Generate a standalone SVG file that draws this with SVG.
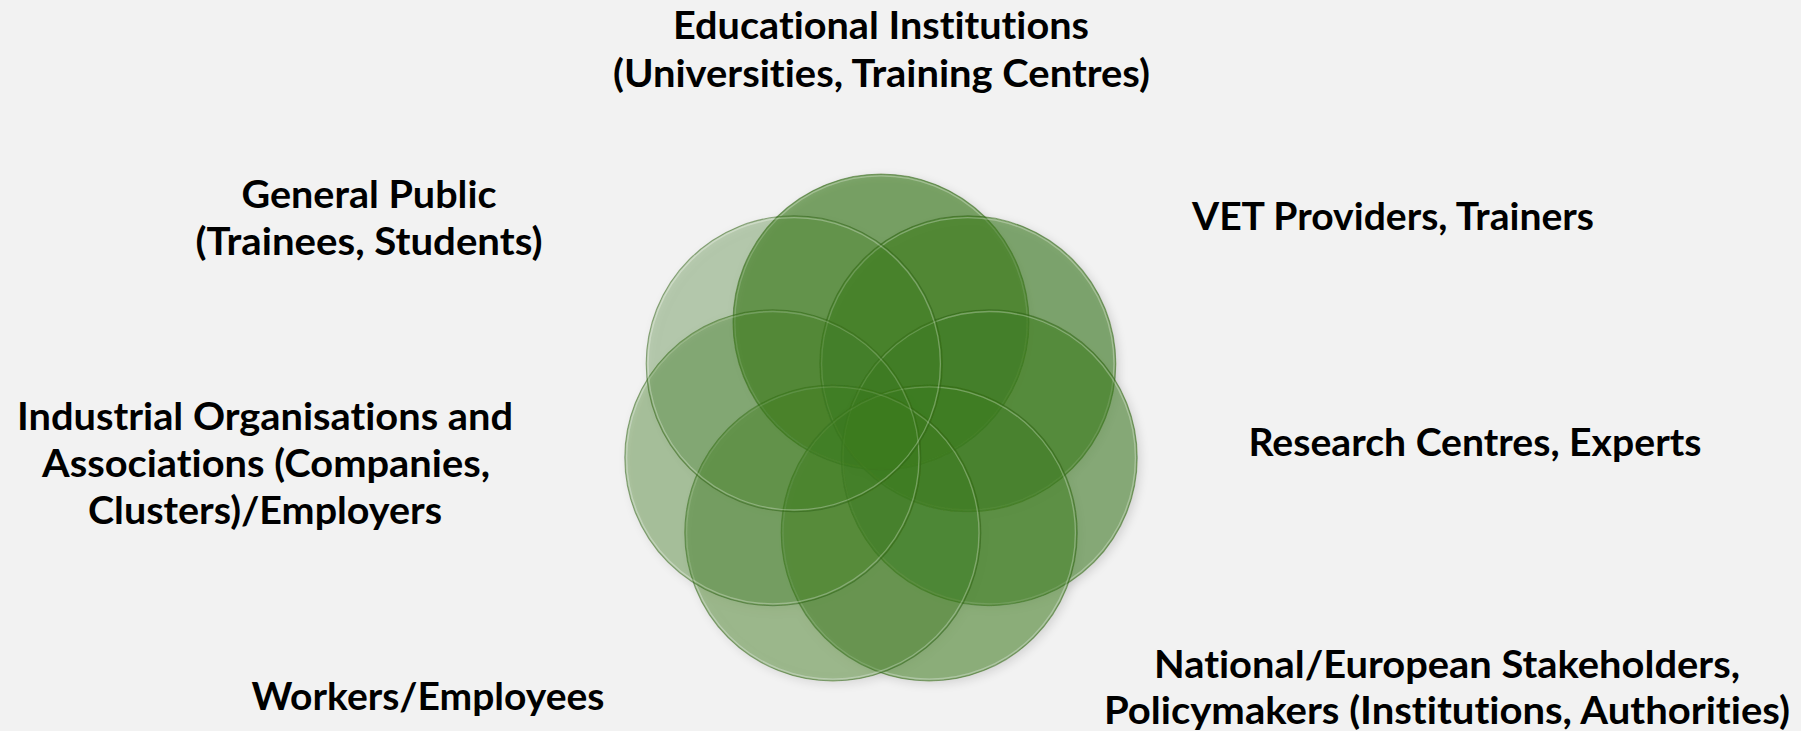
<svg xmlns="http://www.w3.org/2000/svg" width="1801" height="731" viewBox="0 0 1801 731">
  <style>
    .lbl { font-family: "Lato", "Open Sans", "Liberation Sans", sans-serif; font-weight: 700; font-size: 38px; fill: #000000; text-anchor: middle; font-variant-ligatures: none; font-feature-settings: "liga" 0; }
    .c { fill: #3b7a1c; stroke: #2f5f16; stroke-opacity: 0.5; stroke-width: 1.1; }
    .hl { fill: none; stroke: #ffffff; stroke-opacity: 0.28; stroke-width: 1.3; }
  </style>
  <defs>
    <filter id="shadow" x="-10%" y="-10%" width="130%" height="130%">
      <feDropShadow dx="3" dy="3" stdDeviation="4" flood-color="#000000" flood-opacity="0.22"/>
    </filter>
  </defs>
  <rect x="0" y="0" width="1801" height="731" fill="#f2f2f2"/>

  <g id="circles" filter="url(#shadow)">
    <g id="node-educational">
      <circle class="c" cx="881" cy="322" r="148" fill-opacity="0.62"/>
      <circle class="hl" cx="881" cy="322" r="146.2"/>
    </g>
    <g id="node-vet">
      <circle class="c" cx="967.8" cy="363.8" r="148" fill-opacity="0.575"/>
      <circle class="hl" cx="967.8" cy="363.8" r="146.2"/>
    </g>
    <g id="node-research">
      <circle class="c" cx="989.2" cy="457.7" r="148" fill-opacity="0.535"/>
      <circle class="hl" cx="989.2" cy="457.7" r="146.2"/>
    </g>
    <g id="node-national">
      <circle class="c" cx="929.2" cy="533" r="148" fill-opacity="0.49"/>
      <circle class="hl" cx="929.2" cy="533" r="146.2"/>
    </g>
    <g id="node-workers">
      <circle class="c" cx="832.8" cy="533" r="148" fill-opacity="0.42"/>
      <circle class="hl" cx="832.8" cy="533" r="146.2"/>
    </g>
    <g id="node-industrial">
      <circle class="c" cx="772.8" cy="457.7" r="148" fill-opacity="0.36"/>
      <circle class="hl" cx="772.8" cy="457.7" r="146.2"/>
    </g>
    <g id="node-public">
      <circle class="c" cx="794.2" cy="363.8" r="148" fill-opacity="0.29"/>
      <circle class="hl" cx="794.2" cy="363.8" r="146.2"/>
    </g>
  </g>

  <g id="connectors"></g>

  <g id="label-educational">
    <text class="lbl" x="881" y="39" textLength="416" lengthAdjust="spacingAndGlyphs">Educational Institutions</text>
    <text class="lbl" x="881.5" y="87" textLength="537" lengthAdjust="spacingAndGlyphs">(Universities, Training Centres)</text>
  </g>
  <g id="label-public">
    <text class="lbl" x="369" y="208" textLength="255" lengthAdjust="spacingAndGlyphs">General Public</text>
    <text class="lbl" x="369" y="255" textLength="347" lengthAdjust="spacingAndGlyphs">(Trainees, Students)</text>
  </g>
  <g id="label-vet">
    <text class="lbl" x="1393" y="230" textLength="402" lengthAdjust="spacingAndGlyphs">VET Providers, Trainers</text>
  </g>
  <g id="label-industrial">
    <text class="lbl" x="265" y="430" textLength="496" lengthAdjust="spacingAndGlyphs">Industrial Organisations and</text>
    <text class="lbl" x="266" y="477" textLength="448" lengthAdjust="spacingAndGlyphs">Associations (Companies,</text>
    <text class="lbl" x="265" y="524" textLength="354" lengthAdjust="spacingAndGlyphs">Clusters)/Employers</text>
  </g>
  <g id="label-research">
    <text class="lbl" x="1475" y="456" textLength="453" lengthAdjust="spacingAndGlyphs">Research Centres, Experts</text>
  </g>
  <g id="label-workers">
    <text class="lbl" x="428" y="710" textLength="353" lengthAdjust="spacingAndGlyphs">Workers/Employees</text>
  </g>
  <g id="label-national">
    <text class="lbl" x="1447" y="678" textLength="586" lengthAdjust="spacingAndGlyphs">National/European Stakeholders,</text>
    <text class="lbl" x="1447" y="724" textLength="686" lengthAdjust="spacingAndGlyphs">Policymakers (Institutions, Authorities)</text>
  </g>
</svg>
